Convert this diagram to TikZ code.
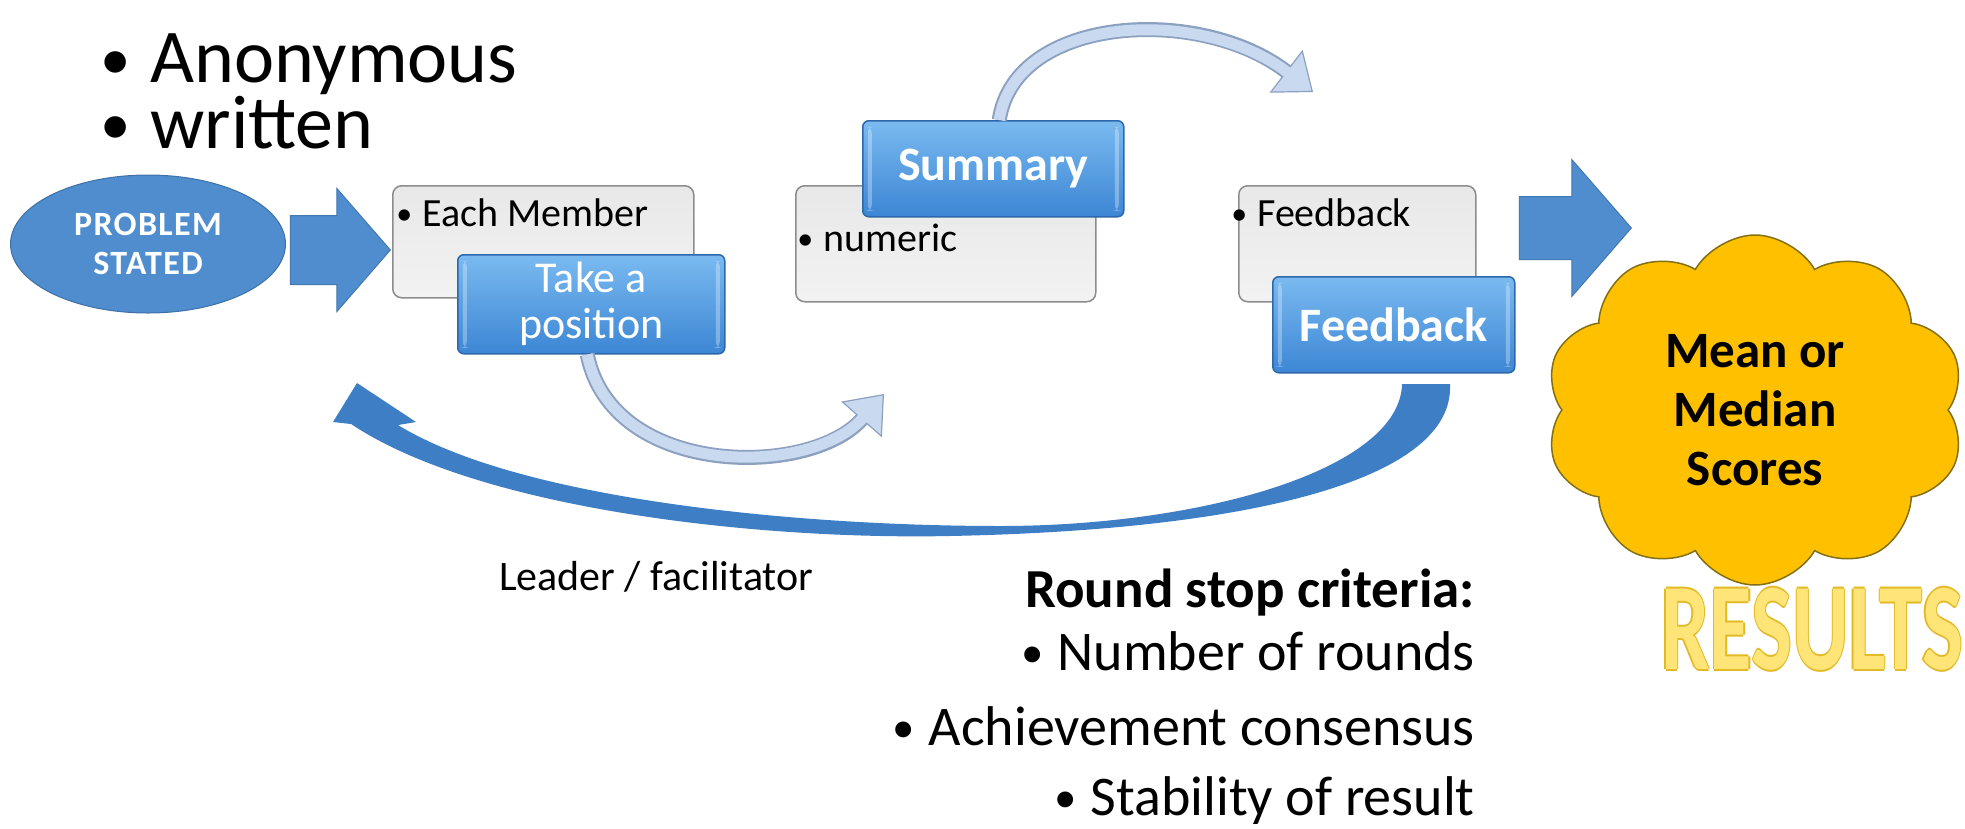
\documentclass[tikz,border=0pt]{standalone}
\usepackage{fontspec}
\setmainfont{Carlito}
\usetikzlibrary{positioning,arrows.meta,shapes.geometric,shapes.symbols,shapes.arrows}

\definecolor{probblue}{RGB}{79,141,207}
\definecolor{backblue}{RGB}{62,126,196}
\definecolor{boxtop}{RGB}{122,186,240}
\definecolor{boxbot}{RGB}{60,134,212}
\definecolor{boxedge}{RGB}{44,104,170}
\definecolor{greyedge}{RGB}{140,140,140}
\definecolor{lightfill}{RGB}{201,217,239}
\definecolor{lightedge}{RGB}{140,160,192}
\definecolor{cloudfill}{RGB}{255,192,0}
\definecolor{cloudedge}{RGB}{130,112,20}
\definecolor{resfill}{RGB}{255,228,120}
\definecolor{resedge}{RGB}{226,186,40}

\newcommand{\bul}{\llap{\raisebox{0.04em}{\scalebox{0.8}{•}}\hspace{0.25em}}}
\newcommand{\fsz}[2]{\fontsize{#1}{#2}\selectfont}
% outlined word: edge copies behind, fill on top
\newcommand{\outlined}[1]{%
  \rlap{\color{resedge}\hspace{-2pt}#1}\rlap{\color{resedge}\hspace{2pt}#1}%
  \rlap{\color{resedge}\raisebox{2pt}{#1}}\rlap{\color{resedge}\raisebox{-2pt}{#1}}%
  {\color{resfill}#1}}

\tikzset{
  probnode/.style={ellipse, fill=probblue, draw=probblue!80!black, line width=1pt,
    minimum width=275pt, minimum height=138pt, inner sep=0pt, text=white,
    font=\bfseries\fsz{34}{39}\addfontfeature{LetterSpace=4}, align=center},
  greybox/.style={draw=greyedge, line width=1.5pt, top color=black!9, bottom color=black!5,
    rounded corners=9pt, anchor=north west, inner sep=0pt},
  bluebox/.style={draw=boxedge, line width=1.5pt, top color=boxtop, bottom color=boxbot,
    rounded corners=6pt, anchor=north west, inner sep=0pt, text=white, align=center,
    path picture={
      \fill[white, opacity=0.3] ([xshift=5pt,yshift=-6pt]path picture bounding box.north west)
        rectangle ([xshift=9pt,yshift=6pt]path picture bounding box.south west);
      \fill[white, opacity=0.3] ([xshift=-9pt,yshift=-6pt]path picture bounding box.north east)
        rectangle ([xshift=-5pt,yshift=6pt]path picture bounding box.south east);}},
  itemtext/.style={anchor=base west, inner sep=0pt, font=\fsz{40}{48}},
  stoptext/.style={anchor=base east, inner sep=0pt, font=\fsz{56}{60}},
  blockarrow/.style={single arrow, fill=probblue, draw=probblue!85!black, line width=1pt,
    inner xsep=0pt, single arrow tip angle=98, anchor=tip},
  lightarrow/.style={line width=15pt, draw=lightedge,
    -{Triangle[length=34pt,width=54pt,line width=1.2pt,fill=lightfill]},
    postaction={draw=lightfill, line width=11pt, -, shorten >=32pt}},
}

\begin{document}
\begin{tikzpicture}[x=1pt, y=-1pt]
  \useasboundingbox (0,0) rectangle (1965,828);

  % top bullets
  \node[anchor=base west, inner sep=0pt, align=left, font=\fsz{76}{62}] (traits) at (150,148)
    {\bul Anonymous\\\bul written};

  % first round
  \node[probnode] (prob) at (148,244) {PROBLEM\\STATED};
  \node[greybox, minimum width=301pt, minimum height=112pt] (eachbox) at (392,185) {};
  \node[itemtext] (eachtxt) at (422,226) {\bul Each Member};
  \node[bluebox, minimum width=267pt, minimum height=99pt, font=\fsz{44}{46}] (take) at (457,254) {Take a\\position};
  \node[blockarrow, minimum height=100pt, inner ysep=34pt, single arrow head extend=27pt] (arrA) at (391,250) {};

  % summary
  \node[greybox, minimum width=300pt, minimum height=116pt] (numbox) at (795,185) {};
  \node[itemtext] (numtxt) at (823,251) {\bul numeric};
  \node[bluebox, minimum width=261pt, minimum height=96pt, font=\bfseries\fsz{48}{50}] (summ) at (862,120) {Summary};

  % feedback
  \node[greybox, minimum width=237pt, minimum height=116pt] (fbbox) at (1238,185) {};
  \node[itemtext] (fbtxt) at (1257,226) {\bul Feedback};
  \node[bluebox, minimum width=242pt, minimum height=96pt, font=\bfseries\fsz{48}{50}] (fback) at (1272,276) {Feedback};

  % results
  \node[blockarrow, minimum height=112pt, inner ysep=31pt, single arrow head extend=37pt] (arrB) at (1632,228) {};
  \node[cloud, cloud puffs=10, cloud puff arc=120, aspect=1.35, fill=cloudfill, draw=cloudedge, line width=1.5pt,
    minimum width=420pt, minimum height=350pt, inner sep=0pt, align=center,
    font=\bfseries\fsz{51}{59}] (scores) at (1755,410) {Mean or\\Median\\Scores};
  \node[anchor=base, inner sep=0pt, font=\bfseries\fsz{124}{124}] (results) at (1812,669)
    {\scalebox{0.7}[1]{\outlined{RESULTS}}};

  % round arrows
  \draw[lightarrow] ([xshift=-4pt]take.south) .. controls (612,478) and (810,478) .. (884,394);
  \draw[lightarrow] ([xshift=6pt]summ.north) .. controls (1015,15) and (1200,5) .. (1313,92);
  \fill[backblue] (1402,384) .. controls (1400,470) and (1200,526) .. (1000,526)
    .. controls (800,526) and (520,500) .. (398,425)
    -- (416,422) -- (357,383) -- (333,422) -- (351,424)
    .. controls (480,510) and (760,540) .. (950,536)
    .. controls (1250,530) and (1455,480) .. (1450,384) -- cycle;

  % labels
  \node[anchor=base west, inner sep=0pt, font=\fsz{42}{44}] (leader) at (499,590) {Leader / facilitator};
  \node[anchor=base east, inner sep=0pt, font=\bfseries\fsz{55}{60}] (stop) at (1475,607) {Round stop criteria:};
  \node[stoptext] (rounds) at (1475,670) {\bul Number of rounds};
  \node[stoptext] (consensus) at (1475,745) {\bul Achievement consensus};
  \node[stoptext] (stable) at (1475,815) {\bul Stability of result};
\end{tikzpicture}
\end{document}
